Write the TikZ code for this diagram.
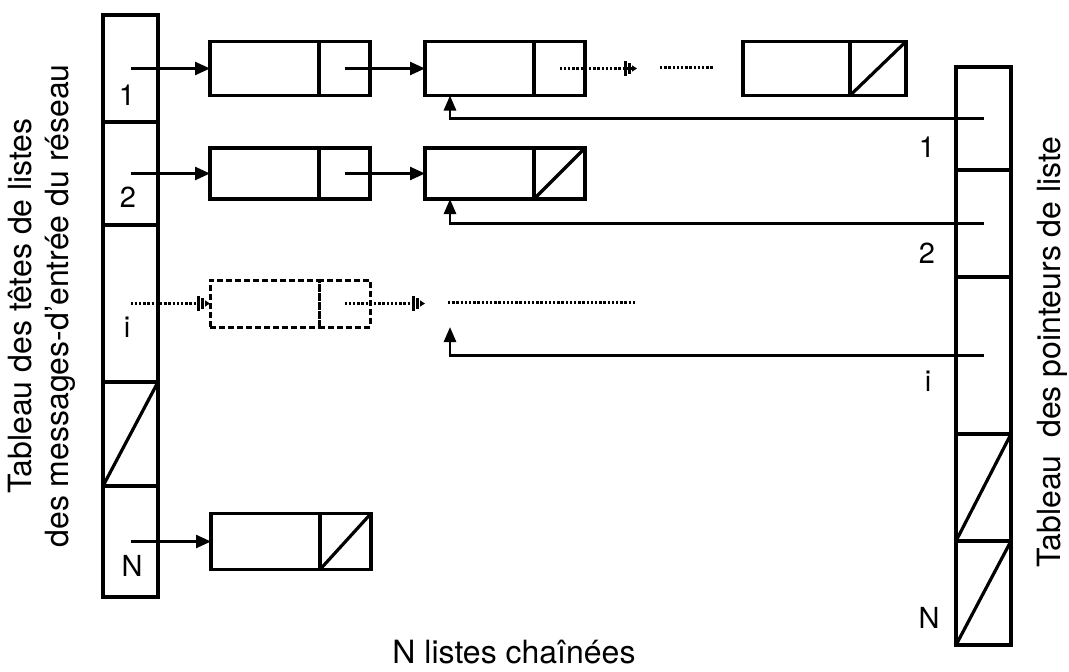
\documentclass[tikz,border=0pt]{standalone}
\usepackage{fontspec}
\setmainfont{TeX Gyre Heros}
\usetikzlibrary{arrows.meta, positioning}

\begin{document}
\begin{tikzpicture}[x=1pt, y=-1pt,
  tabcell/.style={draw, line width=3.2pt, minimum width=55pt, inner sep=0pt, outer sep=0pt},
  datacell/.style={draw, line width=3.2pt, minimum width=109pt, minimum height=54pt, inner sep=0pt, outer sep=0pt},
  ptrcell/.style={datacell, minimum width=51pt},
  ghostcell/.style={line width=3pt, dash pattern=on 6pt off 3pt},
  num/.style={font=\fontsize{29}{34}\selectfont},
  heading/.style={font=\fontsize{32}{37}\selectfont, align=center},
  link/.style={line width=2.4pt, -{Triangle[length=15pt,width=13pt]}},
  backlink/.style={line width=2.8pt, -{Triangle[length=15pt,width=12pt]}},
  dotline/.style={line width=3pt, dash pattern=on 2.4pt off 1.8pt},
  dotlink/.style={dotline, -{Bar[width=15pt,line width=3pt,sep=1.5pt] Bar[width=11pt,line width=2.4pt,sep=1.5pt] Triangle[length=5pt,width=6pt]}}]
  \useasboundingbox (0,0) rectangle (1069,672);

  % table of list heads
  \node[tabcell, minimum height=107pt, anchor=north] (lt1) at (130.5,15) {};
  \node[tabcell, minimum height=103pt, below=0pt of lt1] (lt2) {};
  \node[tabcell, minimum height=157pt, below=0pt of lt2] (lti) {};
  \node[tabcell, minimum height=104pt, below=0pt of lti] (ltx) {};
  \node[tabcell, minimum height=111pt, below=0pt of ltx] (ltN) {};
  \draw[line width=3.2pt] (ltx.south west) -- (ltx.north east);
  \node[num] (l1) at (127,95) {1};
  \node[num] (l2) at (128,197) {2};
  \node[num] (li) at (127,327) {i};
  \node[num] (lN) at (132,566) {N};

  % table of list pointers
  \node[tabcell, minimum height=103pt, anchor=north] (rt1) at (983.5,67) {};
  \node[tabcell, minimum height=107pt, below=0pt of rt1] (rt2) {};
  \node[tabcell, minimum height=157pt, below=0pt of rt2] (rti) {};
  \node[tabcell, minimum height=107pt, below=0pt of rti] (rtx) {};
  \node[tabcell, minimum height=104pt, below=0pt of rtx] (rtN) {};
  \draw[line width=3.2pt] (rtx.south west) -- (rtx.north east);
  \draw[line width=3.2pt] (rtN.south west) -- (rtN.north east);
  \node[num] (r1) at (927,147) {1};
  \node[num] (r2) at (927,253) {2};
  \node[num] (ri) at (928,381) {i};
  \node[num] (rN) at (929,618) {N};

  % list 1
  \node[datacell, anchor=west] (a1d) at (210,68.5) {};
  \node[ptrcell, right=0pt of a1d] (a1p) {};
  \node[datacell, anchor=west] (b1d) at (425,68.5) {};
  \node[ptrcell, right=0pt of b1d] (b1p) {};
  \node[datacell, anchor=west, minimum width=107pt] (c1d) at (743,68.5) {};
  \node[ptrcell, right=0pt of c1d, minimum width=56pt] (c1p) {};
  \draw[line width=3.2pt] (c1p.south west) -- (c1p.north east);
  \draw[link] (lt1.center) -- (a1d.west);
  \draw[link] (a1p.center) -- (b1d.west);
  \coordinate (t1) at (637,68.5);
  \draw[dotlink] (b1p.center) -- (t1);
  \coordinate (d1a) at (660,67);
  \coordinate (d1b) at (713,67);
  \draw[dotline] (d1a) -- (d1b);

  % list 2
  \node[datacell, anchor=west, minimum height=51pt] (a2d) at (210,173.5) {};
  \node[ptrcell, right=0pt of a2d, minimum height=51pt] (a2p) {};
  \node[datacell, anchor=west, minimum height=51pt] (b2d) at (425,173.5) {};
  \node[ptrcell, right=0pt of b2d, minimum height=51pt] (b2p) {};
  \draw[line width=3.2pt] (b2p.south west) -- (b2p.north east);
  \draw[link] (lt2.center) -- (a2d.west);
  \draw[link] (a2p.center) -- (b2d.west);

  % list i
  \node[datacell, ghostcell, anchor=west, minimum height=47pt] (gid) at (210,303.5) {};
  \node[ptrcell, ghostcell, right=0pt of gid, minimum height=47pt] (gip) {};
  \draw[dotlink] (lti.center) -- (gid.west);
  \coordinate (ti) at (425,303.5);
  \draw[dotlink] (gip.center) -- (ti);
  \coordinate (dia) at (448,302);
  \coordinate (dib) at (636,302);
  \draw[dotline] (dia) -- (dib);

  % list N
  \node[datacell, anchor=west, minimum height=56pt] (nd) at (211,541.5) {};
  \node[ptrcell, right=0pt of nd, minimum height=56pt] (np) {};
  \draw[line width=3.2pt] (np.south west) -- (np.north east);
  \draw[link] (ltN.center) -- (nd.west);

  % pointers back to the list tails
  \coordinate (ci) at (450,327);
  \draw[backlink] (rt1.center) -| ([xshift=25pt]b1d.south west);
  \draw[backlink] (rt2.center) -| ([xshift=25pt]b2d.south west);
  \draw[backlink] (rti.center) -| (ci);

  \node[heading, rotate=90] (lefthead) at (42,306) {Tableau des têtes de listes\\des messages-d'entrée du réseau};
  \node[heading, rotate=90] (righthead) at (1052,352) {Tableau\hspace{0.55em}des pointeurs de liste};
  \node[heading] (bottomhead) at (514,652) {N listes chaînées};
\end{tikzpicture}
\end{document}
